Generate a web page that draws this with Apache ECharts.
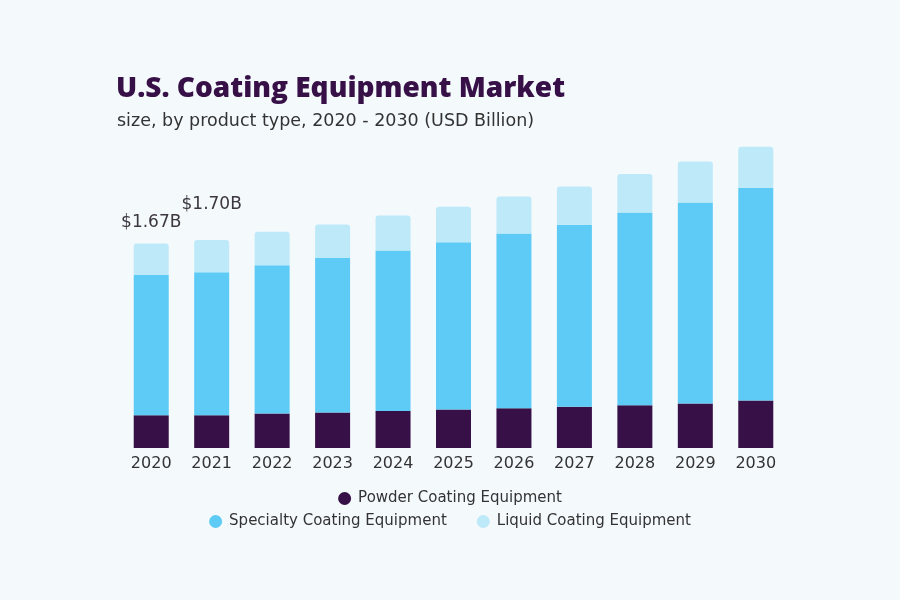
<!DOCTYPE html>
<html><head><meta charset="utf-8">
<script src="https://cdn.jsdelivr.net/npm/echarts@6/dist/echarts.min.js"></script>
<style>html,body{margin:0;padding:0;background:#f4f9fc;}#c{width:900px;height:600px;}</style>
</head><body><div id="c"></div>
<script>
const years = ['2020','2021','2022','2023','2024','2025','2026','2027','2028','2029','2030'];
const powder = [0.268,0.268,0.282,0.290,0.303,0.314,0.325,0.336,0.350,0.363,0.388];
const specialty = [1.146,1.168,1.211,1.263,1.310,1.367,1.427,1.487,1.574,1.642,1.738];
const liquid = [0.256,0.264,0.273,0.273,0.287,0.289,0.303,0.314,0.314,0.336,0.336];
const totalLabels = ['$1.67B','$1.70B'];

const chart = echarts.init(document.getElementById('c'));
const font = 'DejaVu Sans';
const liquidData = liquid.map((v,i)=>{
  if(i < totalLabels.length){
    return {value:v, label:{show:true, position:'top', formatter:totalLabels[i], offset:[0, i===0?-8:-22], fontSize:17, color:'#3b3640', fontFamily:font}};
  }
  return v;
});
chart.setOption({
  backgroundColor:'#f4f9fc',
  animation:false,
  title:[
    {text:'U.S. Coating Equipment Market', left:111, top:70, textStyle:{fontFamily:'Open Sans', fontWeight:800, fontSize:28, color:'#361046'}},
    {text:'size, by product type, 2020 - 2030 (USD Billion)', left:112, top:107, textStyle:{fontFamily:font, fontWeight:'normal', fontSize:17.5, color:'#333'}}
  ],
  legend:[
    {data:['Powder Coating Equipment'], top:486, left:'center', icon:'circle', itemWidth:13, itemHeight:13, itemGap:30, textStyle:{fontFamily:font, fontSize:15, color:'#333', padding:[0,0,0,2]}},
    {data:['Specialty Coating Equipment','Liquid Coating Equipment'], top:509, left:'center', icon:'circle', itemWidth:13, itemHeight:13, itemGap:30, textStyle:{fontFamily:font, fontSize:15, color:'#333', padding:[0,0,0,2]}}
  ],
  grid:{left:121, right:114, top:142, bottom:152},
  xAxis:{type:'category', data:years, axisLine:{show:false}, axisTick:{show:false},
    axisLabel:{fontFamily:font, fontSize:16, color:'#333', margin:8}},
  yAxis:{type:'value', min:0, max:2.5, show:false, splitLine:{show:false}},
  series:[
    {name:'Powder Coating Equipment', type:'bar', stack:'t', data:powder, barWidth:35, itemStyle:{color:'#361046'}},
    {name:'Specialty Coating Equipment', type:'bar', stack:'t', data:specialty, barWidth:35, itemStyle:{color:'#5ecbf6'}},
    {name:'Liquid Coating Equipment', type:'bar', stack:'t', data:liquidData, barWidth:35, itemStyle:{color:'#bde9f9', borderRadius:[3,3,0,0]}}
  ]
});
</script></body></html>
